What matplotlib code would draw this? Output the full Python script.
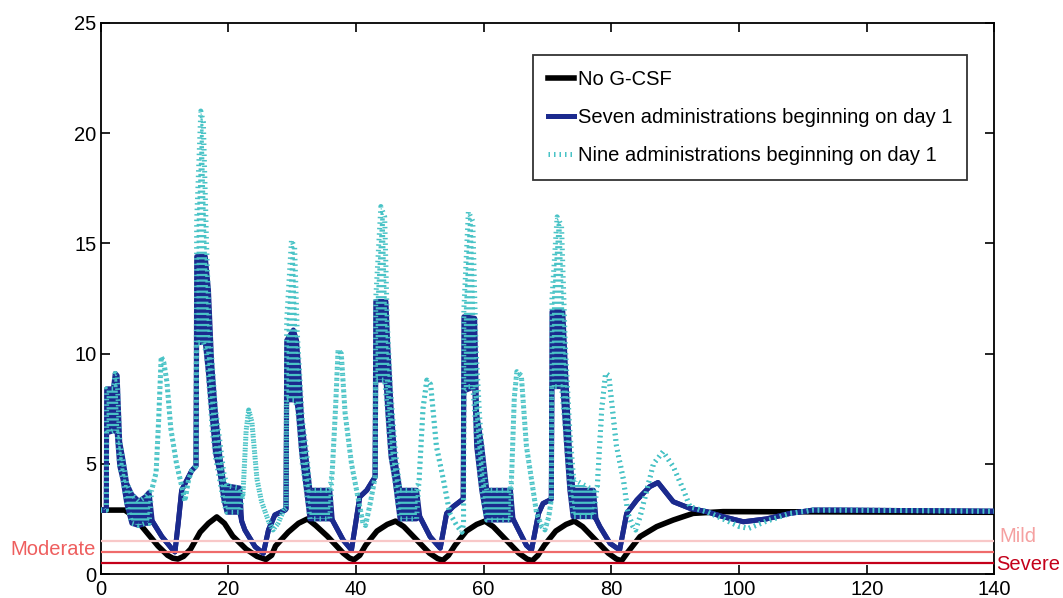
import matplotlib
matplotlib.use("Agg")
import matplotlib.pyplot as plt
import matplotlib.transforms as mtransforms

plt.rcParams["font.family"] = ["Liberation Sans", "DejaVu Sans"]
plt.rcParams["hatch.linewidth"] = 1.6

# ── Data (days, neutrophil count) ────────────────────────────────────────────
# No G-CSF
t_none = [0, 3.8, 5.0, 6.4, 9.0, 10.5, 11.3, 12.1, 13.0, 14.1, 15.6, 16.9, 18.2,
          19.4, 20.7, 22.8, 24.5, 25.9, 26.8, 27.4, 29.4, 31.0, 32.4, 33.7, 35.5,
          38.0, 39.0, 39.7, 40.6, 41.5, 43.3, 44.9, 46.2, 47.5, 49.0, 51.5, 52.8,
          53.6, 54.5, 55.5, 57.3, 58.9, 60.2, 61.5, 63.0, 65.5, 66.8, 67.6, 68.5,
          69.5, 71.3, 72.9, 74.2, 75.5, 77.0, 79.5, 80.8, 81.6, 82.6, 84.5, 87.1,
          89.7, 92.8, 97.5, 140]
y_none = [2.9, 2.9, 2.65, 2.18, 1.27, 0.85, 0.72, 0.68, 0.8, 1.13, 1.9, 2.3, 2.59,
          2.3, 1.72, 1.13, 0.8, 0.66, 0.85, 1.27, 1.9, 2.3, 2.5, 2.2, 1.72,
          0.95, 0.72, 0.65, 0.85, 1.3, 1.95, 2.25, 2.4, 2.15, 1.7, 0.95, 0.7,
          0.62, 0.85, 1.3, 1.95, 2.25, 2.4, 2.15, 1.7, 0.95, 0.68, 0.6, 0.85,
          1.3, 1.95, 2.25, 2.4, 2.15, 1.7, 0.95, 0.68, 0.6, 1.0, 1.7, 2.15,
          2.45, 2.75, 2.83, 2.8]

# Seven administrations: lower / upper envelope of the fast oscillation
t_seven = [0, 0.9, 0.95, 2.0, 2.3, 2.6, 3.0, 3.5, 4.1, 4.9, 6.0, 7.0, 7.6, 8.1, 9.6,
           11.1, 11.65, 12.2, 12.7, 14.3, 14.95, 15.05, 16.4, 16.9, 17.4, 18.0, 18.7,
           19.3, 19.8, 21.8, 22.1, 22.6, 24.2, 25.5, 26.3, 27.3, 28.9, 29.05, 29.15,
           30.2, 30.7, 31.0, 31.5, 32.3, 32.8, 35.9, 36.3, 38.0, 39.3, 40.6, 41.7,
           42.7, 43.0, 43.1, 44.7, 45.0, 45.5, 46.1, 46.9, 49.5, 50.0, 51.6, 53.2,
           54.2, 55.2, 56.6, 56.8, 56.9, 58.6, 58.9, 59.7, 60.5, 64.2, 64.6, 65.2,
           66.7, 67.5, 68.6, 69.3, 70.4, 70.6, 70.7, 72.4, 73.0, 73.5, 74.0, 77.2,
           77.6, 78.2, 79.8, 81.3, 82.4, 84.0, 86.0, 87.3, 89.7, 92.3, 94.9, 97.5,
           100.7, 104.3, 108.0, 111.6, 115.8, 140]
seven_lo = [2.9, 2.9, 6.4, 6.5, 6.5, 6.4, 4.9, 4.3, 3.2, 2.3, 2.2, 2.3, 2.3, 2.4, 1.7,
            1.17, 1.0, 2.4, 3.8, 4.7, 4.9, 10.5, 10.5, 9.1, 7.4, 5.5, 4.6,
            3.4, 2.8, 2.8, 2.4, 2.0, 1.24, 0.94, 2.0, 2.68, 2.9, 2.95, 7.9,
            7.9, 7.9, 7.3, 5.5, 3.7, 2.5, 2.5, 2.45, 1.54, 1.09, 3.5, 3.8,
            4.27, 4.4, 8.8, 8.8, 7.3, 5.3, 4.3, 2.5, 2.5, 2.6, 1.7, 1.17,
            2.75, 3.05, 3.36, 3.4, 8.3, 8.5, 5.8, 3.8, 2.45, 2.45, 2.5, 2.15,
            1.3, 1.09, 2.75, 3.2, 3.36, 3.4, 8.5, 8.5, 5.8, 3.8, 2.6, 2.6,
            2.5, 2.15, 1.39, 1.09, 2.75, 3.36, 3.96, 4.15, 3.28, 2.98, 2.83, 2.6,
            2.37, 2.5, 2.75, 2.9, 2.9, 2.85]
seven_hi = [2.9, 2.9, 8.4, 8.4, 9.1, 9.0, 6.0, 5.2, 4.1, 3.6, 3.3, 3.5, 3.7, 2.4, 1.7,
            1.17, 1.0, 2.4, 3.8, 4.7, 4.9, 14.4, 14.4, 12.9, 9.6, 7.3, 5.3,
            4.1, 4.0, 3.9, 2.4, 2.0, 1.24, 0.94, 2.0, 2.68, 2.9, 2.95, 10.6,
            11.07, 10.6, 9.4, 7.0, 5.0, 3.8, 3.8, 2.45, 1.54, 1.09, 3.5, 3.8,
            4.27, 4.4, 12.36, 12.36, 10.3, 7.6, 5.2, 3.8, 3.8, 2.6, 1.7, 1.17,
            2.75, 3.05, 3.36, 3.4, 11.67, 11.6, 7.3, 5.8, 3.8, 3.8, 2.5, 2.15,
            1.3, 1.09, 2.75, 3.2, 3.36, 3.4, 11.9, 11.9, 8.2, 5.3, 3.8, 3.8,
            2.5, 2.15, 1.39, 1.09, 2.75, 3.36, 3.96, 4.15, 3.28, 2.98, 2.83, 2.6,
            2.37, 2.5, 2.75, 2.9, 2.9, 2.85]

# Nine administrations: lower / upper envelope
t_nine = [0, 0.9, 0.95, 2.0, 2.3, 2.6, 3.0, 3.5, 4.1, 4.9, 6.0, 7.0, 7.6, 8.0, 8.7,
          9.1, 9.5, 9.9, 10.4, 11.0, 11.9, 12.7, 13.2, 13.8, 14.3, 14.95, 15.05,
          15.7, 16.1, 16.6, 17.0, 17.5, 18.0, 18.7, 19.3, 19.8, 21.8, 22.3, 22.8,
          23.2, 23.7, 24.5, 25.2, 26.3, 27.0, 27.8, 28.7, 29.05, 29.15, 29.9, 30.4,
          30.8, 31.2, 31.6, 32.3, 32.8, 35.9, 36.3, 36.8, 37.2, 37.7, 38.3, 39.3,
          40.4, 41.1, 41.5, 42.3, 43.0, 43.1, 43.9, 44.5, 44.9, 45.4, 46.1, 46.9,
          49.5, 49.9, 50.5, 51.1, 51.7, 52.6, 53.7, 54.7, 55.8, 56.6, 56.85, 56.9,
          57.6, 58.3, 58.8, 59.4, 60.1, 60.5, 64.2, 64.4, 64.8, 65.2, 65.9, 66.7,
          67.5, 68.3, 69.1, 69.6, 70.2, 70.6, 70.7, 71.5, 72.2, 72.8, 73.5, 74.1,
          77.2, 77.8, 78.5, 79.1, 79.6, 80.8, 81.9, 82.6, 83.4, 83.8, 84.5, 86.6,
          88.1, 89.7, 91.3, 92.3, 94.9, 97.5, 100.1, 101.5, 104.3, 108.0, 111.6,
          115.8, 140]
nine_lo = [2.9, 2.9, 6.4, 6.5, 6.5, 6.4, 4.9, 4.3, 3.2, 2.3, 2.2, 2.3, 2.3, 3.8, 4.6,
           7.0, 9.86, 9.6, 8.7, 6.6, 5.0, 4.0, 3.3, 4.3, 4.7, 4.9, 10.5,
           10.5, 10.5, 10.0, 8.5, 6.5, 5.3, 4.2, 3.2, 2.8, 2.8, 3.6, 6.5,
           7.44, 6.9, 4.3, 3.3, 2.4, 2.0, 2.3, 2.9, 3.0, 7.9, 7.9, 7.9,
           7.6, 6.5, 5.0, 3.6, 2.5, 2.5, 4.7, 7.5, 10.16, 10.0, 7.3, 5.0,
           3.36, 2.3, 2.2, 3.3, 4.4, 8.8, 8.8, 8.8, 7.5, 5.5, 4.2, 2.5,
           2.5, 4.3, 7.5, 8.8, 8.6, 5.8, 4.27, 2.75, 2.2, 1.9, 2.3, 8.3,
           8.5, 8.5, 6.5, 4.5, 3.0, 2.45, 2.45, 4.6, 8.0, 9.18, 9.0, 5.8,
           4.27, 2.75, 2.15, 2.0, 2.6, 3.4, 8.5, 8.5, 8.5, 6.5, 4.0, 2.6,
           2.6, 4.0, 7.5, 9.1, 9.0, 5.8, 4.27, 2.75, 2.15, 2.0, 2.6, 5.0,
           5.55, 4.87, 3.81, 3.05, 2.83, 2.5, 2.15, 2.07, 2.4, 2.75, 2.9,
           2.9, 2.85]
nine_hi = [2.9, 2.9, 8.4, 8.4, 9.1, 9.0, 6.0, 5.2, 4.1, 3.6, 3.3, 3.5, 3.7, 3.8, 4.6,
           7.0, 9.86, 9.6, 8.7, 6.6, 5.0, 4.0, 3.3, 4.3, 4.7, 4.9, 16.0,
           21.0, 20.5, 15.0, 11.5, 9.5, 7.5, 6.0, 4.6, 4.0, 3.9, 3.6, 6.5,
           7.44, 6.9, 4.3, 3.3, 2.4, 2.0, 2.3, 2.9, 3.0, 11.5, 15.15, 14.8,
           11.0, 9.0, 7.0, 5.5, 3.8, 3.8, 4.7, 7.5, 10.16, 10.0, 7.3, 5.0,
           3.36, 2.3, 2.2, 3.3, 4.4, 12.5, 16.67, 16.2, 11.5, 8.5, 5.8, 3.8,
           3.8, 4.3, 7.5, 8.8, 8.6, 5.8, 4.27, 2.75, 2.2, 1.9, 2.3, 12.0,
           16.44, 16.0, 10.3, 7.0, 4.5, 3.8, 3.8, 4.6, 8.0, 9.18, 9.0, 5.8,
           4.27, 2.75, 2.15, 2.0, 2.6, 3.4, 12.5, 16.2, 15.8, 10.3, 6.5, 4.3,
           3.8, 4.0, 7.5, 9.1, 9.0, 5.8, 4.27, 2.75, 2.15, 2.0, 2.6, 5.0,
           5.55, 4.87, 3.81, 3.05, 2.83, 2.5, 2.15, 2.07, 2.4, 2.75, 2.9,
           2.9, 2.85]

# Neutropenia thresholds
grade_names  = ["Mild", "Moderate", "Severe"]
grade_levels = [1.5, 1.0, 0.5]
grade_lines  = ["#F8C8C8", "#EF6B6B", "#C4001A"]
grade_texts  = ["#F5A0A0", "#EE5E5E", "#C4001A"]

LEGEND = ["No G-CSF",
          "Seven administrations beginning on day 1",
          "Nine administrations beginning on day 1"]

NAVY = "#1B2A8E"
CYAN = "#49C3C6"
DOTS = (0, (0.3, 0.8))

# ── Figure ────────────────────────────────────────────────────────────────────
fig = plt.figure(figsize=(10.63, 5.98), dpi=100, facecolor="white")
ax = fig.add_axes([0.0946, 0.0401, 0.8409, 0.9217])

for lvl, col in zip(grade_levels, grade_lines):
    ax.axhline(lvl, color=col, lw=1.6, zorder=6)

h_none, = ax.plot(t_none, y_none, color="black", lw=4.0,
                  solid_joinstyle="round", zorder=2)

ax.fill_between(t_seven, seven_lo, seven_hi, color=NAVY, lw=0, zorder=3)
h_seven, = ax.plot(t_seven, seven_lo, color=NAVY, lw=3.6,
                   solid_joinstyle="round", zorder=3)
ax.plot(t_seven, seven_hi, color=NAVY, lw=3.6, solid_joinstyle="round", zorder=3)

ax.fill_between(t_nine, nine_lo, nine_hi, facecolor="none", edgecolor=CYAN,
                hatch="---", lw=0, zorder=4)
h_nine, = ax.plot(t_nine, nine_lo, color=CYAN, lw=3.6, ls=DOTS,
                  dash_capstyle="butt", zorder=4)
ax.plot(t_nine, nine_hi, color=CYAN, lw=3.6, ls=DOTS, dash_capstyle="butt", zorder=4)

# ── Axes styling (MATLAB look) ────────────────────────────────────────────────
ax.set_xlim(0, 140)
ax.set_ylim(0, 25)
ax.set_xticks(range(0, 141, 20))
ax.set_yticks(range(0, 26, 5))
ax.set_yticks(grade_levels, minor=True)
ax.tick_params(which="both", direction="in", top=True, right=True,
               labelsize=14.5, width=1.2)
ax.tick_params(which="major", length=6.5)
ax.tick_params(which="minor", length=6)
ax.tick_params(axis="x", pad=4)
ax.tick_params(axis="y", pad=3)
for s in ax.spines.values():
    s.set_linewidth(1.3)

# grade labels either side of the axes
trans = mtransforms.blended_transform_factory(ax.transAxes, ax.transData)
ax.text(-0.005, 1.13, grade_names[1], color=grade_texts[1], fontsize=14.5,
        ha="right", va="center", transform=trans)
ax.text(1.006, 1.69, grade_names[0], color=grade_texts[0], fontsize=14.5,
        ha="left", va="center", transform=trans)
ax.text(1.002, 0.45, grade_names[2], color=grade_texts[2], fontsize=14.5,
        ha="left", va="center", transform=trans)

leg = ax.legend([h_none, h_seven, h_nine], LEGEND, loc="upper left",
                bbox_to_anchor=(0.484, 0.942), borderaxespad=0, fontsize=14.5,
                frameon=True, fancybox=False, edgecolor="black",
                handlelength=1.3, handletextpad=0.15, labelspacing=0.95,
                borderpad=0.75)
leg.get_frame().set_linewidth(1.3)

fig.savefig("out.png", dpi=100, facecolor="white")
